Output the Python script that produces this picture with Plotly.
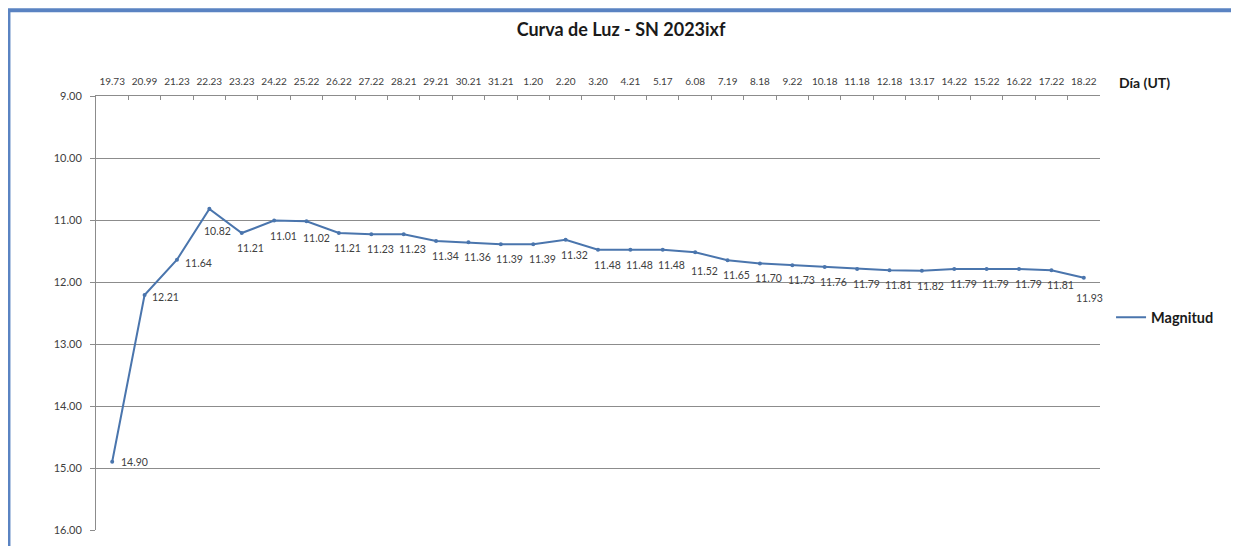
import plotly.graph_objects as go

dias = ["19.73", "20.99", "21.23", "22.23", "23.23", "24.22", "25.22", "26.22", "27.22", "28.21",
        "29.21", "30.21", "31.21", "1.20", "2.20", "3.20", "4.21", "5.17", "6.08", "7.19",
        "8.18", "9.22", "10.18", "11.18", "12.18", "13.17", "14.22", "15.22", "16.22", "17.22", "18.22"]
magnitud = [14.90, 12.21, 11.64, 10.82, 11.21, 11.01, 11.02, 11.21, 11.23, 11.23,
            11.34, 11.36, 11.39, 11.39, 11.32, 11.48, 11.48, 11.48, 11.52, 11.65,
            11.70, 11.73, 11.76, 11.79, 11.81, 11.82, 11.79, 11.79, 11.79, 11.81, 11.93]
y_ticks = [9, 10, 11, 12, 13, 14, 15, 16]

LINE = "#4a75ad"
TXT = "#404040"
FONT = "Lato"

fig = go.Figure()
fig.add_trace(go.Scatter(
    x=dias, y=magnitud, mode="lines+markers", name="Magnitud", showlegend=False,
    line=dict(color=LINE, width=2), marker=dict(color=LINE, size=4),
))
# legend entry (line only, like the reference)
fig.add_trace(go.Scatter(
    x=[None], y=[None], mode="lines", name="Magnitud",
    line=dict(color=LINE, width=2),
))

# data label offsets (pixels) - default below-right, with a few exceptions
default_off = (9, -15)
special = {0: (22, 0), 1: (21, -2), 2: (22, -3), 3: (8, -22), 6: (10, -17),
           18: (9, -19), 30: (6, -20)}
for i, m in enumerate(magnitud):
    dx, dy = special.get(i, default_off)
    fig.add_annotation(x=i, y=m, text=f"{m:.2f}", showarrow=False,
                       xshift=dx, yshift=dy, font=dict(family=FONT, size=10.5, color=TXT))

fig.add_annotation(text="Día (UT)", xref="paper", yref="paper", x=1.044, y=1.032,
                   xanchor="center", yanchor="middle",
                   showarrow=False, font=dict(family=FONT, size=14, color="#1a1a1a", weight=700))

# blue frame (left and top edges)
fig.add_shape(type="line", xref="paper", yref="paper", x0=-0.0872, x1=-0.0872, y0=-0.2, y1=1.20,
              line=dict(color="#5a83c2", width=4))
fig.add_shape(type="line", xref="paper", yref="paper", x0=-0.0892, x1=1.2, y0=1.1975, y1=1.1975,
              line=dict(color="#5a83c2", width=4))

fig.update_layout(
    width=1239, height=546,
    margin=dict(l=88, r=147, t=88, b=24, autoexpand=False),
    paper_bgcolor="white", plot_bgcolor="white",
    title=dict(text="Curva de Luz - SN 2023ixf", x=0.4948, xanchor="center", y=0.9597, yanchor="middle",
               font=dict(family=FONT, size=18, color="#1a1a1a", weight=700)),
    showlegend=True,
    legend=dict(x=1.011, y=0.49, xanchor="left", yanchor="middle",
                font=dict(family=FONT, size=14.5, color="#1a1a1a", weight=700),
                bgcolor="rgba(0,0,0,0)"),
    font=dict(family=FONT, color=TXT),
)
fig.update_xaxes(type="category", side="top", categoryorder="array", categoryarray=dias,
                 range=[-0.5, len(dias) - 0.5], automargin=False,
                 showline=True, linecolor="#8c8c8c", linewidth=1,
                 ticks="inside", ticklen=4, tickcolor="#8c8c8c", tickson="boundaries",
                 showgrid=False, tickfont=dict(family=FONT, size=10, color=TXT),
                 ticklabelstandoff=6, tickangle=0)
fig.update_yaxes(range=[16, 9], tickvals=y_ticks, tickformat=".2f", automargin=False,
                 showline=True, linecolor="#8c8c8c", linewidth=1,
                 ticks="outside", ticklen=5, tickcolor="#8c8c8c",
                 showgrid=True, gridcolor="#8c8c8c", gridwidth=1, zeroline=False,
                 tickfont=dict(family=FONT, size=11, color=TXT), ticklabelstandoff=6)

fig.write_html("out.html")
